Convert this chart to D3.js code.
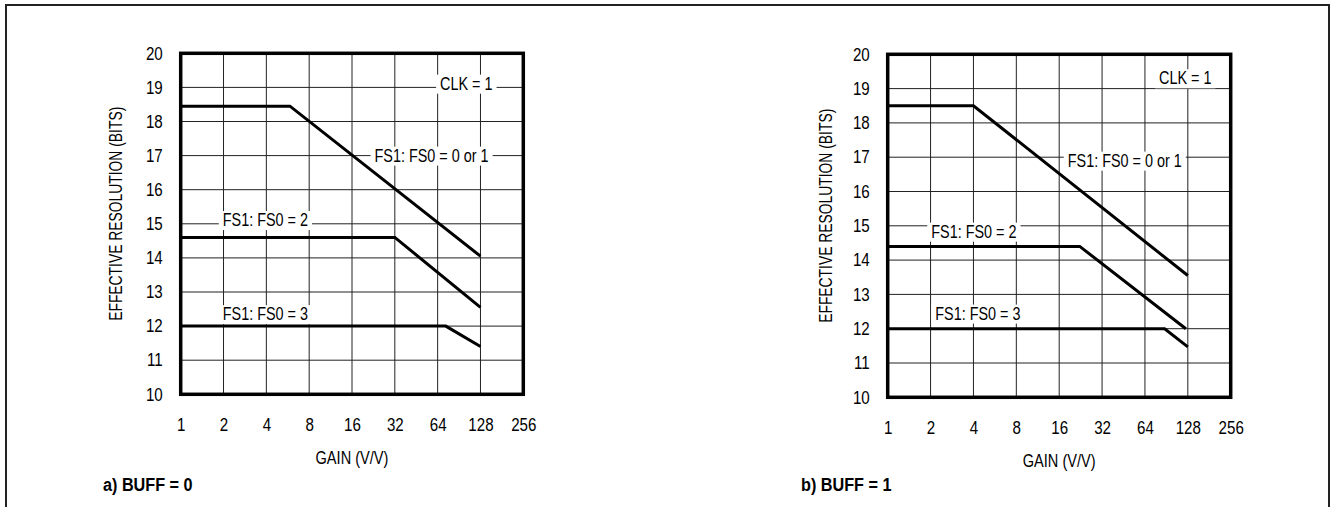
<!DOCTYPE html>
<html>
<head>
<meta charset="utf-8">
<script src="https://cdn.jsdelivr.net/npm/d3@7/dist/d3.min.js"></script>
<style>
  html, body { margin: 0; padding: 0; background: #fff; }
  svg { display: block; }
  text { font-family: "Liberation Sans", Arial, sans-serif; fill: #000; }
</style>
</head>
<body>
<svg id="chart" width="1331" height="507"></svg>
<script>
// Axis tick values
const gainTicks = [1, 2, 4, 8, 16, 32, 64, 128, 256];
const bitsTicks = [10, 11, 12, 13, 14, 15, 16, 17, 18, 19, 20];

// a) BUFF = 0 : effective resolution vs gain
const aFs01Gain = [1, 5.86, 128];
const aFs01Bits = [18.45, 18.45, 14.05];
const aFs2Gain  = [1, 32, 128];
const aFs2Bits  = [14.6, 14.6, 12.55];
const aFs3Gain  = [1, 73, 128];
const aFs3Bits  = [12.0, 12.0, 11.4];

// b) BUFF = 1 : effective resolution vs gain
const bFs01Gain = [1, 4, 128];
const bFs01Bits = [18.5, 18.5, 13.55];
const bFs2Gain  = [1, 22.3, 124];
const bFs2Bits  = [14.4, 14.4, 12.0];
const bFs3Gain  = [1, 88, 128];
const bFs3Bits  = [12.0, 12.0, 11.47];

const seriesLabels = ["FS1: FS0 = 0 or 1", "FS1: FS0 = 2", "FS1: FS0 = 3"];
const clkLabel = "CLK = 1";

const zip = (gs, bs) => gs.map((g, i) => ({ gain: g, bits: bs[i] }));

const FONT = 18;

// condensed lettering: squeeze each text run horizontally
function narrow(sel, k = 0.8) {
  sel.each(function () {
    const w = this.getComputedTextLength();
    d3.select(this).attr("textLength", w * k).attr("lengthAdjust", "spacingAndGlyphs");
  });
  return sel;
}

const panels = [
  {
    box: { x0: 180.7, x1: 523.3, y0: 53.3, y1: 394.3 },
    tag: "a) BUFF = 0", tagX: 103,
    titleDx: 65,
    series: [zip(aFs01Gain, aFs01Bits), zip(aFs2Gain, aFs2Bits), zip(aFs3Gain, aFs3Bits)],
    // annotation anchors (gain, bits) at label centre
    notes: [
      { text: clkLabel, gain: 101.8, bits: 19.11 },
      { text: seriesLabels[0], gain: 58, bits: 17.0 },
      { text: seriesLabels[1], gain: 3.94, bits: 15.11 },
      { text: seriesLabels[2], gain: 3.94, bits: 12.35 }
    ]
  },
  {
    box: { x0: 887.7, x1: 1230.7, y0: 54.3, y1: 397.3 },
    tag: "b) BUFF = 1", tagX: 801,
    titleDx: 62,
    series: [zip(bFs01Gain, bFs01Bits), zip(bFs2Gain, bFs2Bits), zip(bFs3Gain, bFs3Bits)],
    notes: [
      { text: clkLabel, gain: 122.7, bits: 19.3 },
      { text: seriesLabels[0], gain: 46.2, bits: 16.9 },
      { text: seriesLabels[1], gain: 4.03, bits: 14.83 },
      { text: seriesLabels[2], gain: 4.3, bits: 12.44 }
    ]
  }
];

const svg = d3.select("#chart");

// outer frame, open at the bottom
svg.append("path")
  .attr("d", "M6,507 L6,5 L1329,5 L1329,507")
  .attr("fill", "none")
  .attr("stroke", "#222")
  .attr("stroke-width", 2);

function drawPanel(p) {
  const { x0, x1, y0, y1 } = p.box;
  const x = d3.scaleLog().base(2).domain([1, 256]).range([x0, x1]);
  const y = d3.scaleLinear().domain([10, 20]).range([y1, y0]);
  const g = svg.append("g");

  // grid
  g.append("g").selectAll("line.v")
    .data(gainTicks.slice(1, -1))
    .join("line")
    .attr("x1", d => x(d)).attr("x2", d => x(d))
    .attr("y1", y0).attr("y2", y1)
    .attr("stroke", "#222").attr("stroke-width", 1);
  g.append("g").selectAll("line.h")
    .data(bitsTicks.slice(1, -1))
    .join("line")
    .attr("x1", x0).attr("x2", x1)
    .attr("y1", d => y(d)).attr("y2", d => y(d))
    .attr("stroke", "#222").attr("stroke-width", 1);

  // annotations with white backing that breaks the grid
  const notes = g.append("g");
  p.notes.forEach(n => {
    const t = notes.append("text")
      .attr("x", x(n.gain)).attr("y", y(n.bits))
      .attr("text-anchor", "middle")
      .attr("dominant-baseline", "central")
      .attr("font-size", FONT)
      .text(n.text);
    narrow(t);
    const bb = t.node().getBBox();
    notes.insert("rect", () => t.node())
      .attr("x", bb.x - 4).attr("y", bb.y + 1)
      .attr("width", bb.width + 8).attr("height", bb.height - 1)
      .attr("fill", "#fff");
  });

  // curves
  const line = d3.line().x(d => x(d.gain)).y(d => y(d.bits));
  g.append("g").selectAll("path")
    .data(p.series)
    .join("path")
    .attr("d", line)
    .attr("fill", "none")
    .attr("stroke", "#000")
    .attr("stroke-width", 3)
    .attr("stroke-linejoin", "miter");

  // plot frame
  g.append("rect")
    .attr("x", x0).attr("y", y0)
    .attr("width", x1 - x0).attr("height", y1 - y0)
    .attr("fill", "none").attr("stroke", "#000").attr("stroke-width", 3.5);

  // axes
  const xAxis = d3.axisBottom(x).tickValues(gainTicks).tickSize(0).tickPadding(24).tickFormat(d3.format("d"));
  const gx = g.append("g").attr("transform", `translate(0,${y1})`).call(xAxis);
  const yAxis = d3.axisLeft(y).tickValues(bitsTicks).tickSize(0).tickPadding(18).tickFormat(d3.format("d"));
  const gy = g.append("g").attr("transform", `translate(${x0},0)`).call(yAxis);
  [gx, gy].forEach(a => {
    a.select(".domain").remove();
    a.attr("font-family", null).attr("font-size", null);
    narrow(a.selectAll("text").attr("font-size", FONT).attr("fill", "#000"), 0.84);
  });

  // axis titles
  narrow(g.append("text")
    .attr("x", (x0 + x1) / 2).attr("y", y1 + 64)
    .attr("text-anchor", "middle").attr("dominant-baseline", "central")
    .attr("font-size", FONT)
    .text("GAIN (V/V)"), 0.81);
  narrow(g.append("text")
    .attr("transform", `translate(${x0 - p.titleDx},${(y0 + y1) / 2 - 10}) rotate(-90)`)
    .attr("text-anchor", "middle").attr("dominant-baseline", "central")
    .attr("font-size", FONT)
    .text("EFFECTIVE RESOLUTION (BITS)"), 0.77);

  // panel tag
  narrow(g.append("text")
    .attr("x", p.tagX).attr("y", 484.6)
    .attr("dominant-baseline", "central")
    .attr("font-size", FONT).attr("font-weight", "bold")
    .text(p.tag), 0.9);
}

panels.forEach(drawPanel);
</script>
</body>
</html>
